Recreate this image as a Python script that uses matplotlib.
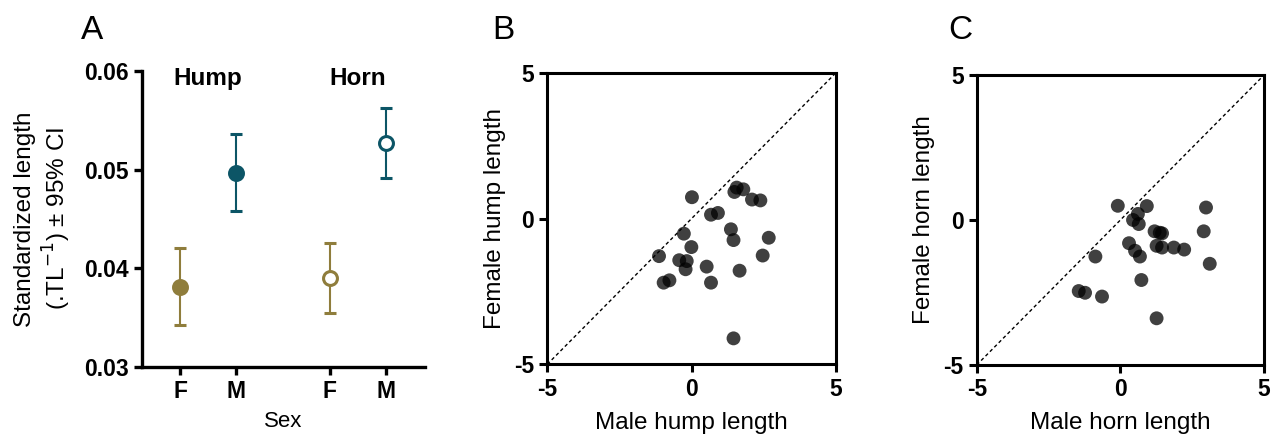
import numpy as np
import matplotlib.pyplot as plt

plt.rcParams['font.family'] = ['Liberation Sans', 'DejaVu Sans']
plt.rcParams['axes.unicode_minus'] = False

# Panel A: standardized length means and 95% CI
groups = ['F', 'M', 'F', 'M']
means = [0.0381, 0.0497, 0.0390, 0.0527]
ci_low = [0.0342, 0.0458, 0.0354, 0.0491]
ci_high = [0.0420, 0.0536, 0.0425, 0.0562]
filled = [True, True, False, False]
group_colors = ['#8f7d3c', '#0c5566', '#8f7d3c', '#0c5566']

# Panel B: hump length, male vs female
hump_male = [0.01, 1.56, 1.48, 1.79, 2.09, 2.38, 0.67, 0.91, -0.27, 1.36, 1.45, 2.67,
             -0.01, -1.13, -0.43, -0.17, -0.21, 0.52, 2.46, 1.66, 0.67, -0.97, -0.77, 1.45]
hump_female = [0.73, 1.06, 0.91, 1.00, 0.65, 0.62, 0.13, 0.19, -0.52, -0.37, -0.74, -0.66,
               -0.98, -1.29, -1.43, -1.46, -1.74, -1.65, -1.27, -1.79, -2.20, -2.20, -2.12, -4.11]

# Panel C: horn length, male vs female
horn_male = [-0.09, 0.92, 0.61, 0.44, 0.64, 2.98, 2.90, 1.19, 1.37, 1.45, 0.30, 0.51,
             0.68, 1.26, 1.45, 1.86, 2.22, 3.11, -0.87, 0.73, -1.45, -1.23, -0.64, 1.26]
horn_female = [0.49, 0.48, 0.21, 0.00, -0.14, 0.43, -0.39, -0.39, -0.44, -0.46, -0.80, -1.06,
               -1.26, -0.89, -0.95, -0.95, -1.02, -1.51, -1.26, -2.07, -2.45, -2.51, -2.64, -3.39]

fig = plt.figure(figsize=(12.85, 4.4), dpi=100)

# ---- panel A ----
ax = fig.add_axes([0.1103, 0.1666, 0.2204, 0.672])
xpos = [1, 2, 3.66, 4.66]
for x, m, lo, hi, f, c in zip(xpos, means, ci_low, ci_high, filled, group_colors):
    ax.errorbar(x, m, yerr=[[m - lo], [hi - m]], fmt='o', color=c, ecolor=c,
                elinewidth=1.5, capsize=4, capthick=1.5, markersize=10,
                markerfacecolor=c if f else 'white', markeredgecolor=c,
                markeredgewidth=2.2, zorder=3)
ax.set_xlim(0.32, 5.35)
ax.set_ylim(0.03, 0.06)
ax.set_yticks([0.03, 0.04, 0.05, 0.06])
ax.set_yticklabels(['0.03', '0.04', '0.05', '0.06'])
ax.set_xticks(xpos)
ax.set_xticklabels(groups)
for s in ['top', 'right']:
    ax.spines[s].set_visible(False)
for s in ['left', 'bottom']:
    ax.spines[s].set_linewidth(2.4)
ax.tick_params(width=2.4, length=6, labelsize=16.5)
for lab in ax.get_xticklabels() + ax.get_yticklabels():
    lab.set_fontweight('bold')
ax.set_xlabel('Sex', fontsize=16, labelpad=6)
ax.set_ylabel('Standardized length\n(.TL$^{-1}$) ± 95% CI', fontsize=17.5, labelpad=8)
ax.text(1.5, 0.0592, 'Hump', fontsize=17.5, fontweight='bold', ha='center', va='center')
ax.text(4.16, 0.0592, 'Horn', fontsize=17.5, fontweight='bold', ha='center', va='center')
fig.text(0.072, 0.93, 'A', fontsize=24, ha='center', va='center')


def scatter_panel(rect, xs, ys, xlab, ylab, letter, lx):
    a = fig.add_axes(rect)
    a.plot([-5, 5], [-5, 5], color='black', linestyle=(0, (2.5, 2)), linewidth=1, zorder=1)
    a.scatter(xs, ys, s=100, color='black', alpha=0.75, edgecolors='none', zorder=2)
    a.set_xlim(-5, 5)
    a.set_ylim(-5, 5)
    a.set_xticks([-5, 0, 5])
    a.set_yticks([-5, 0, 5])
    for s in a.spines.values():
        s.set_linewidth(2.2)
    a.tick_params(width=2.2, length=6, labelsize=16.5)
    for lab in a.get_xticklabels() + a.get_yticklabels():
        lab.set_fontweight('bold')
    a.set_xlabel(xlab, fontsize=17.5, labelpad=8)
    a.set_ylabel(ylab, fontsize=17.5, labelpad=6)
    fig.text(lx, 0.93, letter, fontsize=24, ha='center', va='center')
    return a


scatter_panel([0.4259, 0.172, 0.2247, 0.6628], hump_male, hump_female,
              'Male hump length', 'Female hump length', 'B', 0.392)
scatter_panel([0.7601, 0.1705, 0.2236, 0.659], horn_male, horn_female,
              'Male horn length', 'Female horn length', 'C', 0.747)

fig.savefig('out.png', dpi=100)
